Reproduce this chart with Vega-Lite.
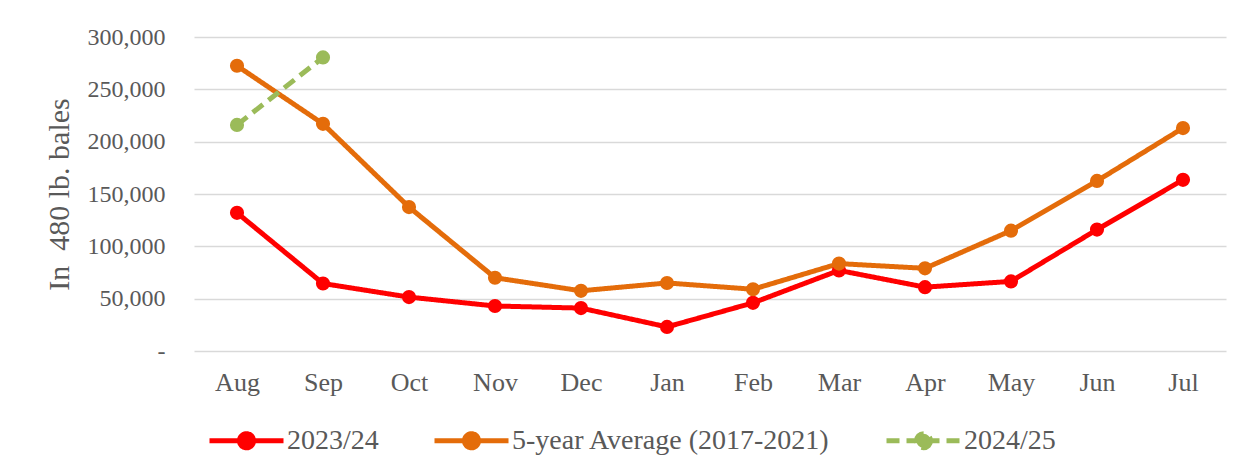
{
  "$schema": "https://vega.github.io/schema/vega-lite/v6.json",
  "autosize": "none",
  "width": 1032,
  "height": 314,
  "padding": {"left": 194, "top": 37, "right": 18, "bottom": 125},
  "background": "white",
  "config": {
    "view": {"stroke": null},
    "font": "Liberation Serif"
  },
  "data": {
    "values": [
      {"month": "Aug", "series": "2023/24", "value": 132000},
      {"month": "Sep", "series": "2023/24", "value": 64500},
      {"month": "Oct", "series": "2023/24", "value": 51500},
      {"month": "Nov", "series": "2023/24", "value": 43000},
      {"month": "Dec", "series": "2023/24", "value": 41000},
      {"month": "Jan", "series": "2023/24", "value": 23000},
      {"month": "Feb", "series": "2023/24", "value": 46000},
      {"month": "Mar", "series": "2023/24", "value": 77000},
      {"month": "Apr", "series": "2023/24", "value": 61000},
      {"month": "May", "series": "2023/24", "value": 66500},
      {"month": "Jun", "series": "2023/24", "value": 116000},
      {"month": "Jul", "series": "2023/24", "value": 163500},
      {"month": "Aug", "series": "5-year Average (2017-2021)", "value": 272500},
      {"month": "Sep", "series": "5-year Average (2017-2021)", "value": 217000},
      {"month": "Oct", "series": "5-year Average (2017-2021)", "value": 137500},
      {"month": "Nov", "series": "5-year Average (2017-2021)", "value": 70000},
      {"month": "Dec", "series": "5-year Average (2017-2021)", "value": 57500},
      {"month": "Jan", "series": "5-year Average (2017-2021)", "value": 65000},
      {"month": "Feb", "series": "5-year Average (2017-2021)", "value": 59000},
      {"month": "Mar", "series": "5-year Average (2017-2021)", "value": 83500},
      {"month": "Apr", "series": "5-year Average (2017-2021)", "value": 79000},
      {"month": "May", "series": "5-year Average (2017-2021)", "value": 115000},
      {"month": "Jun", "series": "5-year Average (2017-2021)", "value": 162500},
      {"month": "Jul", "series": "5-year Average (2017-2021)", "value": 213000},
      {"month": "Aug", "series": "2024/25", "value": 216000},
      {"month": "Sep", "series": "2024/25", "value": 280500}
    ]
  },
  "encoding": {
    "x": {
      "field": "month",
      "type": "ordinal",
      "sort": ["Aug", "Sep", "Oct", "Nov", "Dec", "Jan", "Feb", "Mar", "Apr", "May", "Jun", "Jul"],
      "scale": {"type": "point", "padding": 0.5},
      "axis": {
        "title": null,
        "labelAngle": 0,
        "domain": false,
        "ticks": false,
        "grid": false,
        "labelFont": "Liberation Serif",
        "labelFontSize": 26,
        "labelColor": "#595959",
        "labelPadding": 18
      }
    },
    "y": {
      "field": "value",
      "type": "quantitative",
      "scale": {"domain": [0, 300000], "nice": false},
      "axis": {
        "title": "In\u00a0\u00a0480 lb. bales",
        "titleFont": "Liberation Serif",
        "titleFontSize": 30,
        "titleFontWeight": "normal",
        "titleColor": "#595959",
        "titlePadding": 13,
        "values": [0, 50000, 100000, 150000, 200000, 250000, 300000],
        "labelExpr": "datum.value == 0 ? '-\u00a0\u00a0\u00a0' : format(datum.value, ',')",
        "labelFont": "Liberation Serif",
        "labelFontSize": 24,
        "labelColor": "#595959",
        "labelPadding": 29,
        "domain": false,
        "ticks": false,
        "grid": true,
        "gridColor": "#D9D9D9",
        "gridWidth": 1.5
      }
    },
    "color": {
      "field": "series",
      "type": "nominal",
      "sort": ["2023/24", "5-year Average (2017-2021)", "2024/25"],
      "scale": {
        "domain": ["2023/24", "5-year Average (2017-2021)", "2024/25"],
        "range": ["#FF0000", "#E46C0A", "#9BBB59"]
      },
      "legend": {
        "title": null,
        "orient": "none",
        "direction": "horizontal",
        "legendX": 13,
        "legendY": 364,
        "labelFont": "Liberation Serif",
        "labelFontSize": 28,
        "labelColor": "#595959",
        "labelLimit": 600,
        "labelOffset": 1,
        "columnPadding": 45,
        "symbolType": "M-1,0L1,0M0.19,0A0.19,0.19,0,1,1,-0.19,0A0.19,0.19,0,1,1,0.19,0Z",
        "symbolSize": 5476,
        "symbolStrokeWidth": 5,
        "encode": {
          "symbols": {
            "update": {
              "fill": {"field": "value", "scale": "color"},
              "stroke": {"field": "value", "scale": "color"},
              "fillOpacity": {"value": 1},
              "strokeDash": [
                {"test": "datum.value === '2024/25'", "value": [13, 7]},
                {"value": [1, 0]}
              ]
            }
          }
        }
      }
    }
  },
  "layer": [
    {
      "mark": {"type": "line", "strokeWidth": 5, "strokeCap": "butt"},
      "encoding": {
        "strokeDash": {
          "field": "series",
          "type": "nominal",
          "scale": {
            "domain": ["2023/24", "5-year Average (2017-2021)", "2024/25"],
            "range": [[1, 0], [1, 0], [13, 7]]
          },
          "legend": null
        }
      }
    },
    {
      "mark": {"type": "point", "filled": true, "size": 200, "opacity": 1}
    }
  ]
}
